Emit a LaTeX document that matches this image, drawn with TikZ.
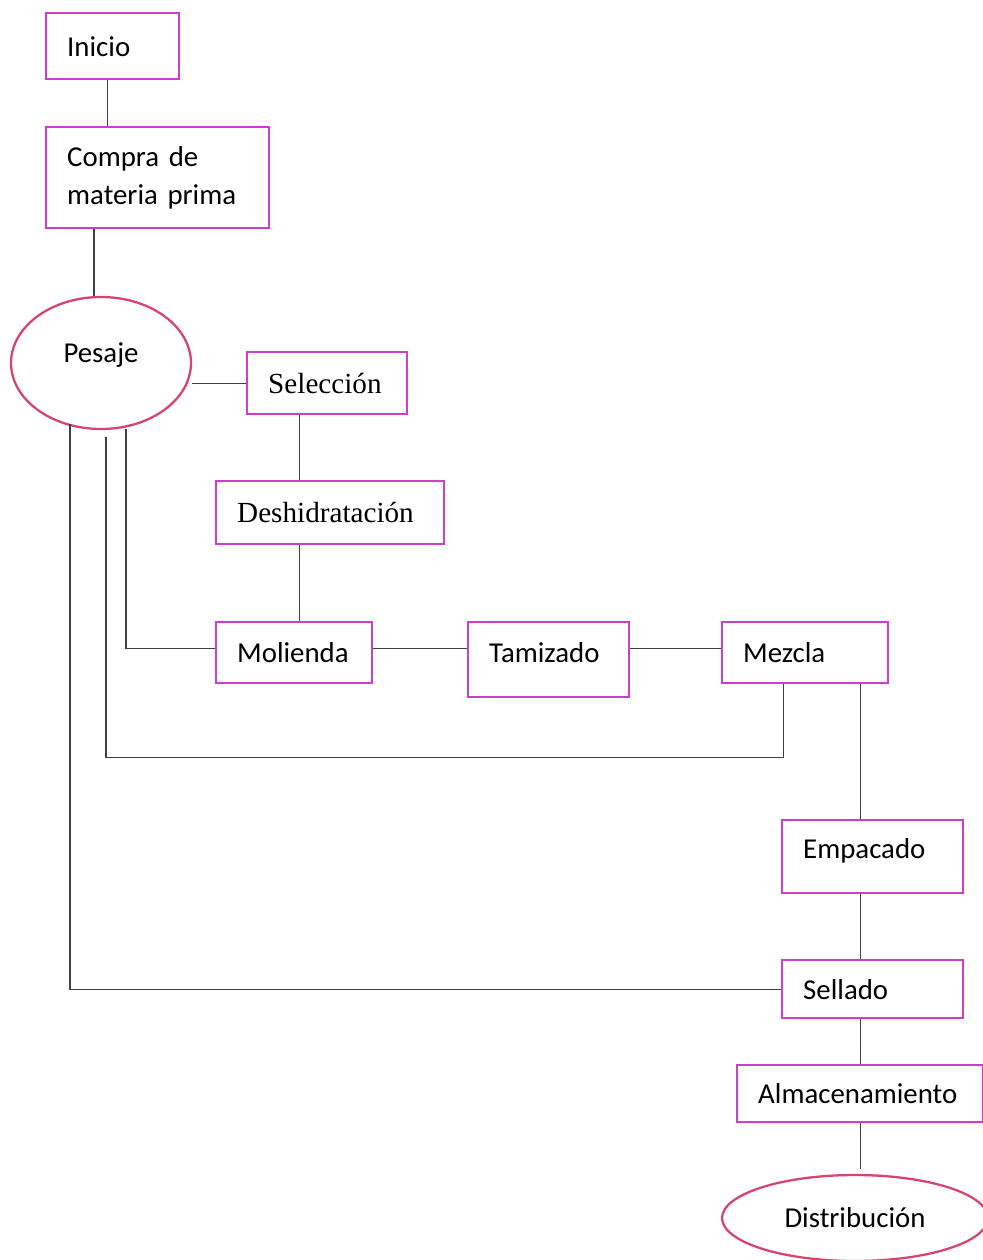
\documentclass[tikz,border=0pt]{standalone}
\usepackage{fontspec}
\setmainfont{Carlito}
\newfontfamily\romana{Liberation Serif}
\usetikzlibrary{positioning, calc, shapes.geometric}
\definecolor{caja}{HTML}{CC3ECC}
\definecolor{ovalo}{HTML}{D6456E}
\definecolor{linea}{HTML}{404040}
\tikzset{
proceso/.style = {rectangle, draw = caja, line width = 1.4pt, inner xsep = .42cm,
   inner ysep = 0pt, align = left, anchor = north west,
   font = \fontsize{16.4}{21.5}\selectfont},
romano/.style = {font = \romana\fontsize{16.6}{20}\selectfont},
terminal/.style = {ellipse, draw = ovalo, line width = 1.3pt, inner sep = 0pt,
   font = \fontsize{16.4}{21.5}\selectfont},
enlace/.style = {draw = linea, line width = .6pt}
}
\begin{document}
\begin{tikzpicture}[x = .02cm, y = -.02cm]

\path [use as bounding box, clip] (0,0) rectangle (983,1260);

%% Primeros pasos
\node [proceso, text width = 1.82cm, minimum height = 1.32cm] (Inicio) at (45,12) {Inicio};
\node [proceso, text width = 3.62cm, minimum height = 2.02cm] (Compra) at (45,126) {Compra de\\materia prima};
\node [terminal, minimum width = 3.6cm, minimum height = 2.64cm, text depth = .42cm] (Pesaje) at (101,363) {Pesaje};

%% Rama de la materia seca
\node [proceso, romano, text width = 2.36cm, minimum height = 1.24cm] (Seleccion) at (246,351) {Selección};
\node [proceso, romano, text width = 3.72cm, minimum height = 1.26cm] (Deshidratacion) at (215,480) {Deshidratación};
\node [proceso, text width = 2.28cm, minimum height = 1.22cm] (Molienda) at (215,621) {Molienda};
\node [proceso, text width = 2.38cm, minimum height = 1.5cm, text depth = .28cm] (Tamizado) at (467,621) {Tamizado};
\node [proceso, text width = 2.48cm, minimum height = 1.22cm] (Mezcla) at (721,621) {Mezcla};

%% Ultimos pasos
\node [proceso, text width = 2.78cm, minimum height = 1.46cm, text depth = .34cm] (Empacado) at (781,819) {Empacado};
\node [proceso, text width = 2.78cm, minimum height = 1.16cm] (Sellado) at (781,959) {Sellado};
\node [proceso, text width = 4.08cm, minimum height = 1.14cm] (Almacenamiento) at (736,1064) {Almacenamiento};
\node [terminal, minimum width = 5.32cm, minimum height = 1.72cm] (Distribucion) at (855,1218) {Distribución};

%% Conexiones de arriba
\draw [enlace] ($(Inicio.south)+(-5.5,0)$) coordinate (c1) -- (c1 |- Compra.north);
\draw [enlace] ($(Pesaje.north)+(-7,0)$) coordinate (c2) -- (c2 |- Compra.south);
\draw [enlace] (Seleccion.west) -- (Seleccion.west -| Pesaje.east);

%% Cadena central
\draw [enlace] ($(Seleccion.south)+(-28,0)$) coordinate (c4) -- (c4 |- Deshidratacion.north);
\draw [enlace] (c4 |- Deshidratacion.south) -- (c4 |- Molienda.north);
\draw [enlace] ($(Molienda.east)+(0,-4.5)$) coordinate (c6) -- (c6 -| Tamizado.west);
\draw [enlace] (c6 -| Tamizado.east) -- (c6 -| Mezcla.west);

%% Lineas que salen del pesaje
\draw [enlace] ($(Pesaje.south)+(25,-1)$) |- (c6 -| Molienda.west);
\coordinate (v1) at ($(Mezcla.south)+(-22,73)$);
\draw [enlace] ($(Pesaje.south)+(5,7)$) |- (v1) -- (v1 |- Mezcla.south);
\draw [enlace] ($(Pesaje.south)+(-31,-6)$) |- (Sellado.west);

%% Cadena final
\draw [enlace] ($(Mezcla.south)+(55,0)$) coordinate (c11) -- (c11 |- Empacado.north);
\draw [enlace] (c11 |- Empacado.south) -- (c11 |- Sellado.north);
\draw [enlace] (c11 |- Sellado.south) -- (c11 |- Almacenamiento.north);
\draw [enlace] (c11 |- Almacenamiento.south) -- ($(c11 |- Distribucion.north)+(0,-5)$);

\end{tikzpicture}
\end{document}
